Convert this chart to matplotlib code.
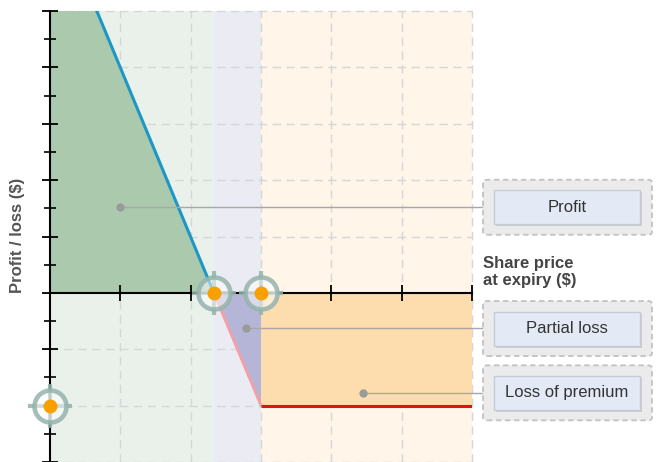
import numpy as np
import matplotlib
matplotlib.use('Agg')
import matplotlib.pyplot as plt
from matplotlib.patches import FancyBboxPatch

plt.rcParams['font.family'] = ['Liberation Sans', 'DejaVu Sans']

# long put payoff at expiry (x: share price, y: profit / loss)
price = [0.0, 2.33, 3.0, 6.0]
pnl = [7.0, 0.0, -2.0, -2.0]
strike = 3.0
breakeven = 2.33
premium = -2.0

# key points on the chart (premium paid, break-even, strike)
key_x = [0.0, 2.33, 3.0]
key_y = [-2.0, 0.0, 0.0]

region_names = ['Profit', 'Partial loss', 'Loss of premium']
region_dots_x = [1.0, 2.78, 4.45]
region_dots_y = [1.52, -0.63, -1.77]

xticks = [1, 2, 3, 4, 5, 6]
yticks = [-3, -2, -1, 0, 1, 2, 3, 4, 5]

W, H = 656, 462
fig = plt.figure(figsize=(W / 100, H / 100), dpi=100)
ax = fig.add_axes([50 / W, 0.0, 422 / W, 451 / H])
ax.set_xlim(0, 6)
ax.set_ylim(-3, 5)

# background bands
ax.axvspan(0, breakeven, color='#e9f1ea', zorder=0, lw=0)
ax.axvspan(breakeven, strike, color='#ebebf4', zorder=0, lw=0)
ax.axvspan(strike, 6, color='#fff5e8', zorder=0, lw=0)

# dashed grid
for gx in xticks:
    ax.axvline(gx, color='#d6d6d6', lw=1, ls=(0, (6, 4)), zorder=0.5, clip_on=False)
for gy in yticks:
    if gy != 0:
        ax.axhline(gy, color='#d6d6d6', lw=1, ls=(0, (6, 4)), zorder=0.5, clip_on=False)

# shaded areas
ax.fill_between(price[:2], pnl[:2], 0, color='#abc9ad', lw=0, zorder=1)
ax.fill_between(price[1:3], pnl[1:3], 0, color='#b5b6d7', lw=0, zorder=1)
ax.fill_between(price[2:], pnl[2:], 0, color='#fddcad', lw=0, zorder=1)

# payoff line
ax.plot(price[:2], pnl[:2], color='#1c97c6', lw=2.2, zorder=3)
ax.plot(price[1:3], pnl[1:3], color='#f2a0a6', lw=2.0, zorder=3)
ax.plot(price[2:], pnl[2:], color='#e0140c', lw=2.2, zorder=3, solid_capstyle='butt')

# axes
for s in ['top', 'right']:
    ax.spines[s].set_visible(False)
ax.spines['bottom'].set_position(('data', 0))
ax.spines['left'].set_linewidth(1.5)
ax.spines['bottom'].set_linewidth(1.5)
ax.spines['left'].set_zorder(4)
ax.spines['bottom'].set_zorder(4)
ax.set_xticks(xticks)
ax.set_yticks(yticks)
ax.set_yticks(np.arange(-2.5, 5, 1.0), minor=True)
ax.tick_params(axis='x', direction='inout', length=12, width=1.3, labelbottom=False)
ax.tick_params(axis='y', which='major', direction='inout', length=12, width=1.3, labelleft=False)
ax.tick_params(axis='y', which='minor', direction='inout', length=8, width=1.2)

# target markers
ring = (0.58, 0.70, 0.68, 0.85)
ax.plot(key_x, key_y, ls='none', marker='+', ms=32, mew=3, color=ring, zorder=5, clip_on=False)
ax.plot(key_x, key_y, ls='none', marker='o', ms=23, mew=3.3, mec=ring,
        mfc=(1, 1, 1, 0.5), zorder=6, clip_on=False)
ax.plot(key_x, key_y, ls='none', marker='o', ms=10, mew=0, color='#f7a000', zorder=7, clip_on=False)

# leader lines to the region labels
box_left = 483
line_end = (box_left + 2 - 50) / 422 * 6
for dx, dy in zip(region_dots_x, region_dots_y):
    ax.plot([dx, line_end], [dy, dy], color='#a8a8a8', lw=1, zorder=8, clip_on=False)
    ax.plot(dx, dy, 'o', ms=6, color='#9a9a9a', mew=0, zorder=8)


def add_box(label, y_px):
    # outer dashed frame
    ox0, ox1 = 483, 652
    outer = FancyBboxPatch(((ox0) / W, 1 - (y_px + 27.5) / H), (ox1 - ox0) / W, 55 / H,
                           boxstyle='round,pad=0,rounding_size=0.006',
                           transform=fig.transFigure, fc='#ebebeb', ec='#c2c2c2',
                           lw=1.3, ls=(0, (3, 2)), zorder=1)
    fig.patches.append(outer)
    # inner label with soft shadow
    ix0, ix1 = 494, 640
    shadow = FancyBboxPatch(((ix0 + 2) / W, 1 - (y_px + 19) / H), (ix1 - ix0) / W, 34 / H,
                            boxstyle='square,pad=0', transform=fig.transFigure,
                            fc='#cbcbcb', ec='none', zorder=2)
    fig.patches.append(shadow)
    inner = FancyBboxPatch((ix0 / W, 1 - (y_px + 17) / H), (ix1 - ix0) / W, 34 / H,
                           boxstyle='square,pad=0', transform=fig.transFigure,
                           fc='#e3eaf5', ec='#c4ccd8', lw=1, zorder=3)
    fig.patches.append(inner)
    fig.text((ix0 + ix1) / 2 / W, 1 - y_px / H, label, ha='center', va='center',
             fontsize=12, color='#333333', zorder=4)


for name, dy in zip(region_names, region_dots_y):
    y_px = 293 - dy * 56.4
    add_box(name, y_px)

fig.text(18 / W, 1 - 235 / H, 'Profit / loss ($)', rotation=90, ha='center', va='center',
         fontsize=12, fontweight='bold', color='#555555')
fig.text(483 / W, 1 - 256 / H, 'Share price\nat expiry ($)', ha='left', va='top',
         fontsize=12, fontweight='bold', color='#444444', linespacing=1.15)

fig.savefig('out.png', dpi=100)
